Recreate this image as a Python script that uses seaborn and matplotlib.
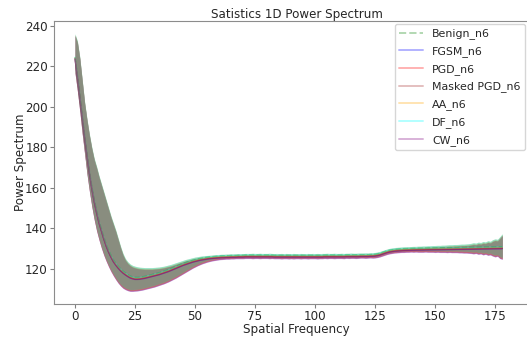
import numpy as np
import pandas as pd
import seaborn as sns
import matplotlib
matplotlib.use("Agg")
import matplotlib.pyplot as plt

# spatial frequency bins 0..178
freq = list(range(179))

# shared mean curve
mean_curve = [
    224, 215, 205, 195, 185, 176, 167.5, 160, 153.5, 148,
    143, 139, 135, 131.5, 128.5, 126, 123.8, 122.1, 120.6, 119.3,
    118.2, 117.3, 116.5, 115.8, 115.4, 115.1, 115.1, 115.2, 115.4, 115.6,
    115.9, 116.2, 116.5, 116.8, 117.1, 117.4, 117.8, 118.2, 118.6, 119.0,
    119.5, 120.0, 120.5, 121.0, 121.5, 122.0, 122.4, 122.8, 123.2, 123.6,
    123.9, 124.2, 124.5, 124.7, 124.9, 125.1, 125.3, 125.4, 125.5, 125.6,
    125.7, 125.8, 125.8, 125.9, 125.9, 126.0, 126.0, 126.0, 126.1, 126.1,
    126.1, 126.2, 126.2, 126.2, 126.2, 126.2, 126.2, 126.2, 126.2, 126.2,
    126.2, 126.2, 126.2, 126.1, 126.1, 126.1, 126.1, 126.1, 126.1, 126.1,
    126.1, 126.1, 126.1, 126.1, 126.1, 126.1, 126.1, 126.1, 126.1, 126.1,
    126.1, 126.1, 126.1, 126.1, 126.2, 126.2, 126.2, 126.2, 126.2, 126.2,
    126.2, 126.2, 126.2, 126.3, 126.3, 126.3, 126.3, 126.3, 126.3, 126.4,
    126.4, 126.4, 126.4, 126.5, 126.5, 126.6, 126.8, 127.1, 127.5, 127.9,
    128.3, 128.6, 128.8, 129.0, 129.1, 129.2, 129.3, 129.35, 129.4, 129.45,
    129.5, 129.5, 129.55, 129.55, 129.6, 129.6, 129.65, 129.65, 129.7, 129.7,
    129.7, 129.75, 129.75, 129.8, 129.8, 129.8, 129.85, 129.85, 129.9, 129.9,
    129.9, 129.95, 129.95, 130.0, 130.0, 130.0, 130.05, 130.05, 130.1, 130.1,
    130.1, 130.15, 130.15, 130.2, 130.2, 130.2, 130.25, 130.25, 130.3,
]

# upper edge of the spread band
band_high = [
    235.5, 232, 224, 213, 202, 193.5, 186, 179.5, 174, 170,
    165.5, 161.5, 157.5, 153.5, 149.5, 145.5, 142, 138.5, 134.5, 130.5,
    127, 124.5, 122.9, 121.8, 121.1, 120.7, 120.4, 120.2, 120.1, 120.0,
    120.0, 120.0, 120.0, 120.1, 120.2, 120.3, 120.5, 120.7, 121.0, 121.3,
    121.6, 122.0, 122.4, 122.8, 123.2, 123.6, 124.0, 124.3, 124.6, 124.9,
    125.2, 125.4, 125.6, 125.8, 125.9, 126.0, 126.1, 126.2, 126.3, 126.4,
    126.5, 126.6, 126.6, 126.7, 126.7, 126.8, 126.8, 126.8, 126.9, 126.9,
    126.9, 127.0, 127.0, 127.0, 127.1, 127.0, 127.0, 127.1, 127.0, 127.0,
    127.0, 127.1, 127.0, 126.9, 127.0, 126.9, 127.0, 126.9, 127.0, 126.9,
    126.9, 127.0, 126.9, 126.9, 127.0, 126.9, 126.9, 127.0, 126.9, 127.0,
    126.9, 127.0, 126.9, 127.0, 127.0, 127.1, 127.0, 127.0, 127.1, 127.0,
    127.0, 127.1, 127.0, 127.1, 127.1, 127.2, 127.1, 127.1, 127.2, 127.2,
    127.2, 127.3, 127.2, 127.3, 127.4, 127.5, 127.7, 128.0, 128.4, 128.8,
    129.2, 129.5, 129.7, 129.9, 130.0, 130.1, 130.2, 130.3, 130.3, 130.4,
    130.4, 130.5, 130.5, 130.6, 130.6, 130.7, 130.7, 130.8, 130.8, 130.9,
    130.9, 131.0, 131.0, 131.1, 131.1, 131.2, 131.3, 131.3, 131.4, 131.4,
    131.5, 131.6, 131.6, 131.7, 131.8, 132.0, 132.3, 132.1, 132.6, 132.4,
    132.9, 132.7, 133.3, 133.0, 133.8, 134.2, 134.0, 135.3, 136.7,
]

# lower edge of the spread band
band_low = [
    217, 208, 198, 187, 177, 167, 158.5, 151, 144.5, 139,
    134.5, 130.5, 127, 124, 121.3, 118.9, 116.8, 114.9, 113.2, 111.8,
    110.7, 110.0, 109.5, 109.2, 109.2, 109.3, 109.4, 109.6, 109.8, 110.1,
    110.4, 110.7, 111.0, 111.3, 111.7, 112.1, 112.5, 112.9, 113.4, 113.9,
    114.5, 115.1, 115.7, 116.4, 117.1, 117.8, 118.5, 119.2, 119.9, 120.6,
    121.2, 121.8, 122.3, 122.8, 123.2, 123.6, 123.9, 124.2, 124.4, 124.6,
    124.8, 124.9, 125.0, 125.1, 125.1, 125.2, 125.2, 125.3, 125.3, 125.3,
    125.3, 125.4, 125.4, 125.4, 125.3, 125.4, 125.4, 125.3, 125.4, 125.4,
    125.4, 125.3, 125.4, 125.3, 125.3, 125.3, 125.2, 125.3, 125.3, 125.2,
    125.3, 125.2, 125.3, 125.3, 125.2, 125.3, 125.3, 125.2, 125.3, 125.3,
    125.3, 125.2, 125.3, 125.3, 125.4, 125.3, 125.4, 125.4, 125.3, 125.4,
    125.4, 125.4, 125.3, 125.5, 125.4, 125.5, 125.5, 125.4, 125.5, 125.6,
    125.6, 125.5, 125.6, 125.7, 125.6, 125.7, 125.9, 126.2, 126.6, 127.0,
    127.4, 127.7, 127.9, 128.1, 128.2, 128.3, 128.4, 128.4, 128.5, 128.5,
    128.6, 128.5, 128.6, 128.5, 128.5, 128.5, 128.6, 128.5, 128.5, 128.5,
    128.4, 128.5, 128.4, 128.4, 128.4, 128.3, 128.4, 128.3, 128.3, 128.3,
    128.2, 128.2, 128.1, 128.1, 128.0, 127.9, 127.7, 127.9, 127.5, 127.7,
    127.2, 127.5, 127.0, 127.2, 126.6, 126.2, 126.5, 125.4, 125.0,
]

labels = ["Benign_n6", "FGSM_n6", "PGD_n6", "Masked PGD_n6", "AA_n6", "DF_n6", "CW_n6"]
colors = ["green", "blue", "red", "brown", "orange", "cyan", "purple"]
styles = ["--", "-", "-", "-", "-", "-", "-"]
# small vertical offset of each series relative to the shared curve
offsets = [0.5, -0.4, -0.3, -0.1, 0.1, 0.4, -0.5]
# order in which the spread bands are stacked
fill_order = [1, 0, 2, 6, 3, 4, 5]

sns.set_style("ticks")
plt.rcParams["font.family"] = ["DejaVu Sans"]

fig = plt.figure(figsize=(5.27, 3.38), dpi=100)
# the saved picture cuts the right part of the axes off
ax = fig.add_axes([54 / 527, 34 / 338, 485 / 527, 283 / 338])

m = np.array(mean_curve)
hi = np.array(band_high)
lo = np.array(band_low)

for i in fill_order:
    ax.fill_between(freq, lo + offsets[i], hi + offsets[i],
                    color=colors[i], alpha=0.25, linewidth=0)

for lab, col, ls, off in zip(labels, colors, styles, offsets):
    sns.lineplot(x=freq, y=m + off, ax=ax, color=col, linestyle=ls,
                 alpha=0.3, linewidth=1.0, label=lab)

ax.set_xlim(-8.75, 193.3)
ax.set_ylim(102.5, 242.3)
ax.set_title("Satistics 1D Power Spectrum", fontsize=8.6, pad=2)
ax.set_xlabel("Spatial Frequency", fontsize=8.6, labelpad=-0.5)
ax.set_ylabel("Power Spectrum", fontsize=8.6, labelpad=-1.5)
ax.set_xticks([0, 25, 50, 75, 100, 125, 150, 175])
ax.set_yticks([120, 140, 160, 180, 200, 220, 240])
ax.tick_params(labelsize=8.6, length=3, width=0.8, color="0.5", pad=1.5)
for s in ax.spines.values():
    s.set_color("0.55")
    s.set_linewidth(0.8)

leg = ax.legend(loc="upper right", bbox_to_anchor=(471 / 485, 1 - 3 / 283),
                borderaxespad=0, fontsize=7.9, frameon=True, fancybox=True,
                handlelength=2.2, labelspacing=0.62)
for h in leg.get_lines():
    h.set_alpha(0.3)
    h.set_linewidth(1.4)

fig.savefig("out.png", dpi=100)
